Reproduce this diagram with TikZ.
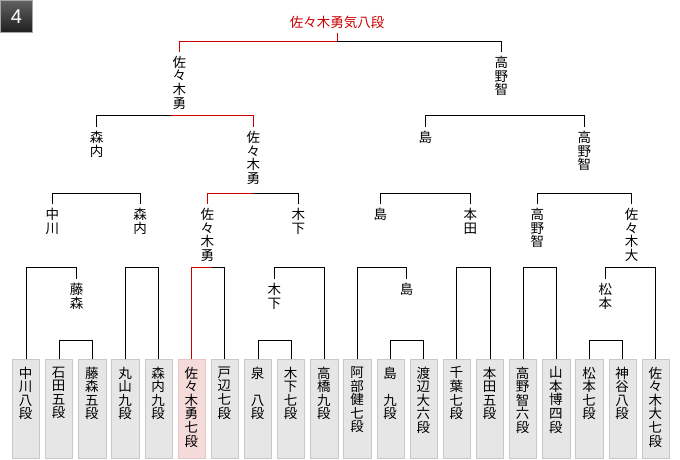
\documentclass[tikz,border=0pt]{standalone}
\usepackage{fontspec}
\newfontfamily\jp{Noto Sans CJK JP}
\newfontfamily\lsans{Liberation Sans}
\definecolor{rdc}{RGB}{204,0,0}
\definecolor{boxfill}{RGB}{230,230,230}
\definecolor{boxline}{RGB}{200,200,200}
\definecolor{pinkfill}{RGB}{245,218,218}
\definecolor{pinkline}{RGB}{232,196,196}
\newcommand\bracketdraw[3]{\draw[bl] (#1.north) -- (#1.north |- 0,#3) -- (#2.north |- 0,#3) -- (#2.north);}
\begin{document}
\begin{tikzpicture}[x=1pt,y=-1pt,
  bl/.style={line width=1pt,black},
  rl/.style={line width=1pt,rdc},
  gbox/.style={draw=boxline,fill=boxfill,line width=1pt,minimum width=27.3pt,minimum height=99pt,inner sep=0pt,outer sep=0pt,anchor=north},
  pbox/.style={gbox,draw=pinkline,fill=pinkfill},
  vlab/.style={font=\jp\fontsize{13.5}{13.7}\selectfont,align=center,inner xsep=0pt,inner ysep=4pt,outer sep=0pt,anchor=north},
  btxt/.style={font=\jp\fontsize{13.5}{13.6}\selectfont,align=center,inner sep=0pt,outer sep=0pt,anchor=north},
  badge/.style={draw=black!35,line width=1pt,top color=black!62,bottom color=black!88,minimum width=32pt,minimum height=32pt,inner sep=0pt,outer sep=0pt,anchor=north west,text=white,font=\lsans\fontsize{20}{22}\selectfont}
]
\useasboundingbox (0,0) rectangle (680,460);

% badge
\node[badge] (badge) at (0.5,0.5) {4};

% title
\node[vlab,text=rdc] (title) at (337,12.5) {佐々木勇気八段};

% level 1 labels
\node[vlab] (p1) at (179.3,52) {佐\\々\\木\\勇};
\node[vlab] (p2) at (501.3,52) {高\\野\\智};
% level 2 labels
\node[vlab] (q1) at (96.7,127) {森\\内};
\node[vlab] (q2) at (253.3,127) {佐\\々\\木\\勇};
\node[vlab] (q3) at (425.3,127) {島};
\node[vlab] (q4) at (584.3,127) {高\\野\\智};
% level 3 labels
\node[vlab] (r1) at (52.3,204) {中\\川};
\node[vlab] (r2) at (140,204) {森\\内};
\node[vlab] (r3) at (207.3,204) {佐\\々\\木\\勇};
\node[vlab] (r4) at (298.3,204) {木\\下};
\node[vlab] (r5) at (380.3,204) {島};
\node[vlab] (r6) at (470.3,204) {本\\田};
\node[vlab] (r7) at (537.3,204) {高\\野\\智};
\node[vlab] (r8) at (631.7,204) {佐\\々\\木\\大};
% level 4 labels
\node[vlab] (s1) at (76.7,279.3) {藤\\森};
\node[vlab] (s2) at (274.3,279.3) {木\\下};
\node[vlab] (s3) at (406.7,279.3) {島};
\node[vlab] (s4) at (605.3,279.3) {松\\本};

% boxes
\node[gbox] (b1)  at (26.15,359.3) {};
\node[gbox] (b2)  at (59.29,359.3) {};
\node[gbox] (b3)  at (92.43,359.3) {};
\node[gbox] (b4)  at (125.57,359.3) {};
\node[gbox] (b5)  at (158.71,359.3) {};
\node[pbox] (b6)  at (191.85,359.3) {};
\node[gbox] (b7)  at (224.99,359.3) {};
\node[gbox] (b8)  at (258.13,359.3) {};
\node[gbox] (b9)  at (291.27,359.3) {};
\node[gbox] (b10) at (324.41,359.3) {};
\node[gbox] (b11) at (357.55,359.3) {};
\node[gbox] (b12) at (390.69,359.3) {};
\node[gbox] (b13) at (423.83,359.3) {};
\node[gbox] (b14) at (456.97,359.3) {};
\node[gbox] (b15) at (490.11,359.3) {};
\node[gbox] (b16) at (523.25,359.3) {};
\node[gbox] (b17) at (556.39,359.3) {};
\node[gbox] (b18) at (589.53,359.3) {};
\node[gbox] (b19) at (622.67,359.3) {};
\node[gbox] (b20) at (655.81,359.3) {};

% box texts
\node[btxt] (t1)  at (25.6,366.7) {中\\川\\八\\段};
\node[btxt] (t2)  at (58.7,366.7) {石\\田\\五\\段};
\node[btxt] (t3)  at (91.9,366.7) {藤\\森\\五\\段};
\node[btxt] (t4)  at (125.0,366.7) {丸\\山\\九\\段};
\node[btxt] (t5)  at (158.2,366.7) {森\\内\\九\\段};
\node[btxt] (t6)  at (191.3,366.7) {佐\\々\\木\\勇\\七\\段};
\node[btxt] (t7)  at (224.4,366.7) {戸\\辺\\七\\段};
\node[btxt] (t8)  at (257.6,366.7) {泉\\　\\八\\段};
\node[btxt] (t9)  at (290.7,366.7) {木\\下\\七\\段};
\node[btxt] (t10) at (323.9,366.7) {高\\橋\\九\\段};
\node[btxt] (t11) at (357.0,366.7) {阿\\部\\健\\七\\段};
\node[btxt] (t12) at (390.1,366.7) {島\\　\\九\\段};
\node[btxt] (t13) at (423.3,366.7) {渡\\辺\\大\\六\\段};
\node[btxt] (t14) at (456.4,366.7) {千\\葉\\七\\段};
\node[btxt] (t15) at (489.6,366.7) {本\\田\\五\\段};
\node[btxt] (t16) at (522.7,366.7) {高\\野\\智\\六\\段};
\node[btxt] (t17) at (555.8,366.7) {山\\本\\博\\四\\段};
\node[btxt] (t18) at (589.0,366.7) {松\\本\\七\\段};
\node[btxt] (t19) at (622.1,366.7) {神\\谷\\八\\段};
\node[btxt] (t20) at (655.3,366.7) {佐\\々\\木\\大\\七\\段};

% final
\coordinate (k1) at (title.south |- 0,41.3);
\draw[rl] (title.south) -- (k1);
\draw[rl] (p1.north) -- (p1.north |- k1) -- (k1);
\draw[bl] (k1) -- (p2.north |- k1) -- (p2.north);

% level 2 brackets
\coordinate (k2) at (171,115.3);
\draw[bl] (q1.north) -- (q1.north |- k2) -- (k2);
\draw[rl] (k2) -- (q2.north |- k2) -- (q2.north);
\bracketdraw{q3}{q4}{115.3}

% level 3 brackets
\bracketdraw{r1}{r2}{193.3}
\coordinate (k3) at (q2.north |- 0,193.3);
\draw[rl] (r3.north) -- (r3.north |- k3) -- (k3);
\draw[bl] (k3) -- (r4.north |- k3) -- (r4.north);
\bracketdraw{r5}{r6}{193.3}
\bracketdraw{r7}{r8}{193.3}

% level 4 brackets
\bracketdraw{b1}{s1}{267.3}
\bracketdraw{b4}{b5}{267.3}
\coordinate (k4) at (211.7,267.3);
\draw[rl] (b6.north) -- (b6.north |- k4) -- (k4);
\draw[bl] (k4) -- (b7.north |- k4) -- (b7.north);
\bracketdraw{s2}{b10}{267.3}
\bracketdraw{b11}{s3}{267.3}
\bracketdraw{b14}{b15}{267.3}
\bracketdraw{b16}{b17}{267.3}
\bracketdraw{s4}{b20}{267.3}

% level 5 brackets
\bracketdraw{b2}{b3}{340}
\bracketdraw{b8}{b9}{340}
\bracketdraw{b12}{b13}{340}
\bracketdraw{b18}{b19}{340}
\end{tikzpicture}
\end{document}
